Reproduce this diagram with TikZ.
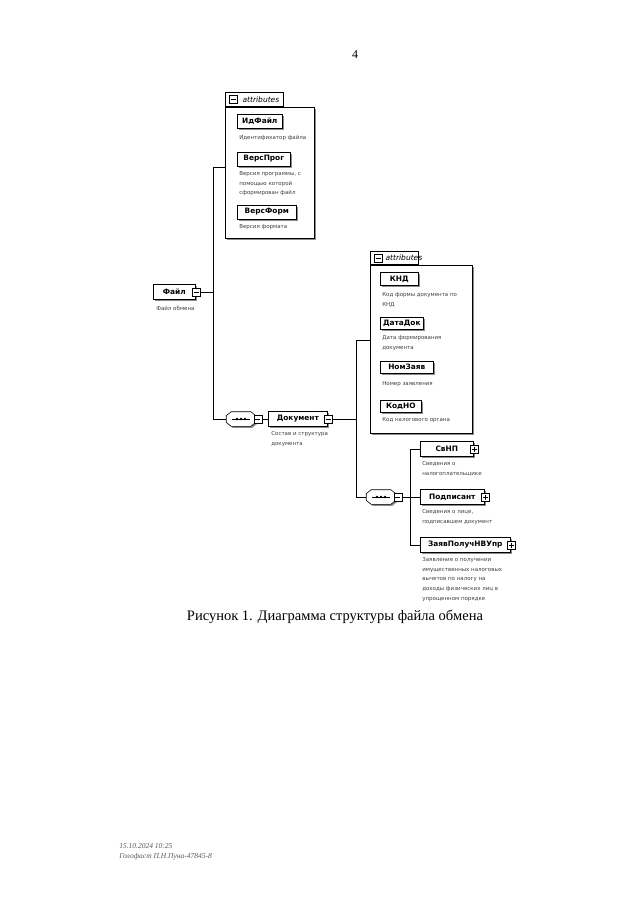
\documentclass[tikz,border=0pt]{standalone}
\usepackage{fontspec}
\setmainfont{Liberation Serif}
\newfontfamily\xsd{DejaVu Sans}
\usetikzlibrary{shadows}

\tikzset{
	shade/.style={drop shadow={shadow xshift=1.5pt, shadow yshift=-1.5pt, fill=black!45, opacity=1}},
	elem/.style={draw, fill=white, shade, anchor=west, minimum height=14pt, inner sep=1pt, font=\xsd\bfseries\fontsize{7.4}{8}\selectfont},
	desc/.style={anchor=north west, align=left, inner sep=0pt, text=black!75, font=\xsd\fontsize{5.5}{9.8}\selectfont},
	attrbox/.style={draw, fill=white, shade, anchor=north west, inner sep=0pt},
	attrtab/.style={draw, fill=white, anchor=south west, inner sep=0pt, minimum height=14pt},
	tabtext/.style={anchor=west, inner sep=0pt, font=\xsd\itshape\fontsize{7.5}{8}\selectfont},
	minusbox/.style={draw, fill=white, minimum size=8pt, inner sep=0pt,
		path picture={\draw ([xshift=1.5pt]path picture bounding box.west) -- ([xshift=-1.5pt]path picture bounding box.east);}},
	plusbox/.style={draw, fill=white, minimum size=8pt, inner sep=0pt,
		path picture={\draw ([xshift=1.5pt]path picture bounding box.west) -- ([xshift=-1.5pt]path picture bounding box.east);
			\draw ([yshift=-1.5pt]path picture bounding box.north) -- ([yshift=1.5pt]path picture bounding box.south);}},
	seq/.style={minimum width=29pt, minimum height=14pt, inner sep=0pt},
	octa/.style={draw, fill=white, shade}
}
\newcommand\seqmark[1]{%
	\draw[octa] ([xshift=5pt]#1.north west) -- ([xshift=-5pt]#1.north east) -- ([yshift=-4pt]#1.north east) -- ([yshift=4pt]#1.south east)
		-- ([xshift=-5pt]#1.south east) -- ([xshift=5pt]#1.south west) -- ([yshift=4pt]#1.south west) -- ([yshift=-4pt]#1.north west) -- cycle;
	\draw ([xshift=-9pt]#1.center) -- ([xshift=9pt]#1.center);
	\foreach \d in {-4,0,4} \fill ([xshift=\d pt]#1.center) circle (1.3pt);
}

\begin{document}
\begin{tikzpicture}[x=1pt,y=-1pt,line width=0.6pt]
	\fill[white] (0,0) rectangle (640,905);
	\useasboundingbox (0,0) rectangle (640,905);

	\node[font=\fontsize{12}{14}\selectfont] (pagenum) at (355,55) {4};

	% attributes of Файл
	\node[attrbox, minimum width=89pt, minimum height=131pt] (attrA) at (225,107) {};
	\node[attrtab, minimum width=58pt] (tabA) at (attrA.north west) {};
	\node[minusbox] (tabAm) at ([xshift=8pt]tabA.west) {};
	\node[tabtext] (tabAt) at ([xshift=5pt]tabAm.east) {attributes};

	\node[elem, minimum width=45pt] (idfajl) at (237,121) {ИдФайл};
	\node[desc] (idfajld) at (239,135) {Идентификатор файла};
	\node[elem, minimum width=53pt] (versprog) at (237,159) {ВерсПрог};
	\node[desc] (versprogd) at (239,171) {Версия программы, с\\помощью которой\\сформирован файл};
	\node[elem, minimum width=59pt] (versform) at (237,212) {ВерсФорм};
	\node[desc] (versformd) at (239,224) {Версия формата};

	% Файл
	\node[elem, minimum width=42pt, minimum height=15pt] (fajl) at (153,292) {Файл};
	\node[minusbox] (fajlm) at ([xshift=1pt]fajl.east) {};
	\node[desc] (fajld) at (156,306) {Файл обмена};

	\coordinate (busAtop) at (213,167);
	\coordinate (busAbot) at (213,419);
	\node[seq] (seqA) at (241,419) {};
	\seqmark{seqA}
	\node[minusbox] (seqAm) at ([xshift=2pt]seqA.east) {};

	\draw (attrA.west |- busAtop) -- (busAtop) -- (busAbot) -- (seqA.west);
	\draw (fajlm.east) -- (fajlm.east -| busAtop);

	% Документ
	\node[elem, minimum width=59pt, minimum height=15pt] (dokument) at (268,419) {Документ};
	\node[minusbox] (dokumentm) at ([xshift=1pt]dokument.east) {};
	\node[desc] (dokumentd) at (271,431) {Состав и структура\\документа};
	\draw (seqAm.east) -- (dokument.west);

	% attributes of Документ
	\node[attrbox, minimum width=102pt, minimum height=168pt] (attrB) at (370,265) {};
	\node[attrtab, minimum width=48pt, minimum height=13pt] (tabB) at (attrB.north west) {};
	\node[minusbox] (tabBm) at ([xshift=8pt]tabB.west) {};
	\node[tabtext] (tabBt) at ([xshift=3pt]tabBm.east) {attributes};

	\node[elem, minimum width=38pt, minimum height=13pt] (knd) at (380,279) {КНД};
	\node[desc] (kndd) at (382,292) {Код формы документа по\\КНД};
	\node[elem, minimum width=43pt, minimum height=12pt] (datadok) at (380,323) {ДатаДок};
	\node[desc] (datadokd) at (382,335) {Дата формирования\\документа};
	\node[elem, minimum width=53pt, minimum height=12pt] (nomzajav) at (380,367) {НомЗаяв};
	\node[desc] (nomzajavd) at (382,381) {Номер заявления};
	\node[elem, minimum width=41pt, minimum height=12pt] (kodno) at (380,406) {КодНО};
	\node[desc] (kodnod) at (382,417) {Код налогового органа};

	\coordinate (busBtop) at (356,340);
	\coordinate (busBbot) at (356,497);
	\node[seq] (seqB) at (381,497) {};
	\seqmark{seqB}
	\node[minusbox] (seqBm) at ([xshift=2pt]seqB.east) {};

	\draw (attrB.west |- busBtop) -- (busBtop) -- (busBbot) -- (seqB.west);
	\draw (dokumentm.east) -- (dokumentm.east -| busBtop);

	% children of the sequence
	\node[elem, minimum width=53pt, minimum height=15pt] (svnp) at (420,449) {СвНП};
	\node[plusbox] (svnpp) at ([xshift=1pt]svnp.east) {};
	\node[desc] (svnpd) at (422,461) {Сведения о\\налогоплательщике};
	\node[elem, minimum width=64pt, minimum height=15pt] (podpisant) at (420,497) {Подписант};
	\node[plusbox] (podpisantp) at ([xshift=1pt]podpisant.east) {};
	\node[desc] (podpisantd) at (422,509) {Сведения о лице,\\подписавшем документ};
	\node[elem, minimum width=90pt, minimum height=15pt] (zajav) at (420,545) {ЗаявПолучНВУпр};
	\node[plusbox] (zajavp) at ([xshift=1pt]zajav.east) {};
	\node[desc] (zajavd) at (422,557) {Заявление о получении\\имущественных налоговых\\вычетов по налогу на\\доходы физических лиц в\\упрощенном порядке};

	\coordinate (busC) at (410,497);
	\draw (seqBm.east) -- (busC);
	\draw (svnp.west) -- (svnp.west -| busC) -- (zajav.west -| busC) -- (zajav.west);
	\draw (busC) -- (podpisant.west);

	\node[font=\fontsize{14.5}{16}\selectfont] (caption) at (335,617) {Рисунок 1. Диаграмма структуры файла обмена};

	\node[anchor=west, align=left, inner sep=0pt, text=black!65, font=\itshape\fontsize{7.5}{9.5}\selectfont] (stamp) at (119,852) {15.10.2024 10:25\\Голофаст П.Н.Пуна-47845-8};
\end{tikzpicture}
\end{document}
